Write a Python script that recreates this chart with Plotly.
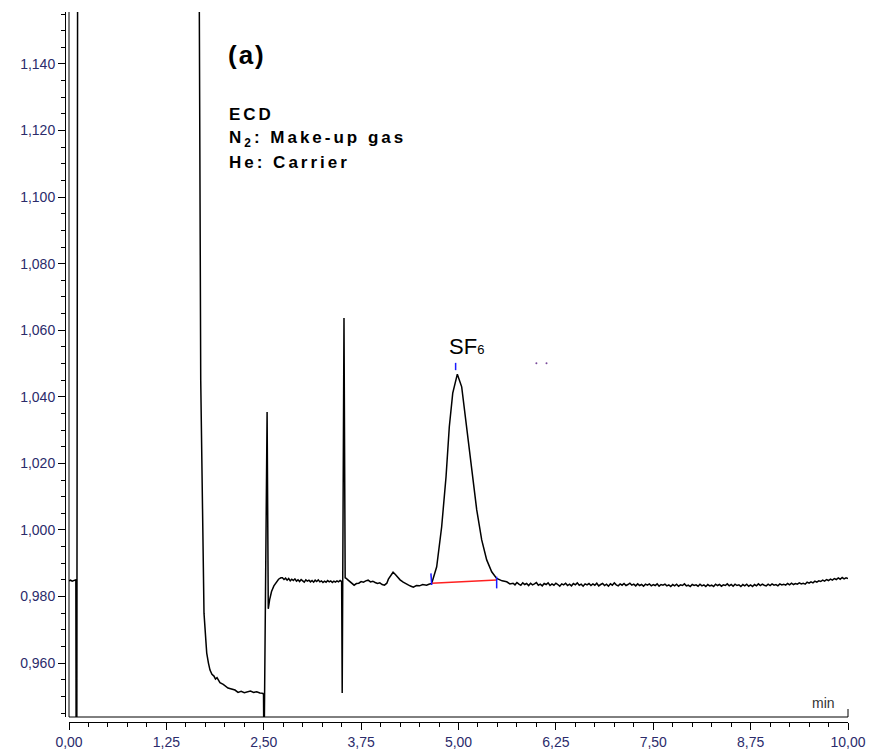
import plotly.graph_objects as go

# ---- chromatogram signal (time in min, detector response) ----
t_start = [0.00, 0.02, 0.04, 0.06, 0.08, 0.088]
y_start = [0.9847, 0.9849, 0.9846, 0.9848, 0.9851, 0.9850]

# injection disturbance and off-scale solvent/air front
t_front = [0.092, 0.100, 0.112, 0.125, 0.50, 1.00, 1.50, 1.640]
y_front = [0.930, 0.930, 1.200, 1.250, 1.300, 1.300, 1.300, 1.220]

# tail of the front
t_tail = [1.673, 1.691, 1.733, 1.759, 1.768, 1.790, 1.810, 1.835, 1.861, 1.880,
          1.900, 1.938, 1.980, 2.041, 2.090, 2.131, 2.170, 2.210, 2.250, 2.290,
          2.330, 2.370, 2.410, 2.450, 2.490]
y_tail = [1.1556, 1.0450, 0.9750, 0.9660, 0.9630, 0.9600, 0.9579, 0.9566, 0.9561, 0.9552,
          0.9556, 0.9541, 0.9536, 0.9525, 0.9522, 0.9519, 0.9512, 0.9515, 0.9511, 0.9514,
          0.9516, 0.9512, 0.9514, 0.9510, 0.9509]

# valve switch at 2.5 min and recovery
t_valve = [2.497, 2.503, 2.543, 2.558, 2.575, 2.600, 2.630, 2.660, 2.690, 2.720]
y_valve = [0.9505, 0.9300, 1.0354, 0.9763, 0.9790, 0.9815, 0.9832, 0.9843, 0.9852, 0.9856]

# baseline 2.74 - 3.48 min, sampled every 0.02 min
y_base1 = [0.9856, 0.9851, 0.9855, 0.9849, 0.9854, 0.9847, 0.9852, 0.9848, 0.9853, 0.9846,
           0.9850, 0.9845, 0.9851, 0.9847, 0.9843, 0.9850, 0.9846, 0.9849, 0.9844, 0.9848,
           0.9843, 0.9849, 0.9845, 0.9850, 0.9844, 0.9847, 0.9842, 0.9846, 0.9843, 0.9848,
           0.9844, 0.9847, 0.9842, 0.9846, 0.9843, 0.9847, 0.9844, 0.9848]
t_base1 = [round(2.74 + 0.02 * k, 3) for k in range(len(y_base1))]

# second switching spike at 3.5 min
t_spike = [3.500, 3.507, 3.530, 3.545]
y_spike = [0.9845, 0.9510, 1.0637, 0.9856]

t_base2 = [3.556, 3.58, 3.60, 3.63, 3.66, 3.69, 3.72, 3.75, 3.78, 3.81,
           3.84, 3.87, 3.90, 3.93, 3.96, 3.99, 4.02, 4.05, 4.08, 4.10,
           4.13, 4.16, 4.19, 4.22, 4.25, 4.29, 4.32, 4.36, 4.39, 4.42,
           4.46, 4.50, 4.54, 4.59, 4.62]
y_base2 = [0.9855, 0.9850, 0.9846, 0.9838, 0.9834, 0.9839, 0.9840, 0.9845, 0.9843, 0.9847,
           0.9849, 0.9844, 0.9846, 0.9842, 0.9839, 0.9841, 0.9836, 0.9834, 0.9840, 0.9852,
           0.9862, 0.9873, 0.9866, 0.9858, 0.9850, 0.9843, 0.9838, 0.9834, 0.9831, 0.9828,
           0.9833, 0.9832, 0.9836, 0.9834, 0.9837]

# SF6 peak
t_peak = [4.656, 4.720, 4.784, 4.840, 4.882, 4.926, 4.985, 5.041, 5.105, 5.169,
          5.234, 5.298, 5.362, 5.426, 5.490, 5.560, 5.619, 5.660]
y_peak = [0.98395, 0.98894, 1.00095, 1.01598, 1.03100, 1.04110, 1.04680, 1.04300, 1.03100, 1.01800,
          1.00600, 0.99700, 0.99100, 0.98743, 0.98545, 0.98470, 0.98443, 0.98380]

# baseline 5.70 - 10.00 min, sampled every 0.025 min
y_base3 = [0.9840, 0.9835, 0.9842, 0.9837, 0.9834, 0.9841, 0.9836, 0.9839, 0.9833, 0.9840,
           0.9835, 0.9838, 0.9842, 0.9834, 0.9837, 0.9832, 0.9839, 0.9836, 0.9841, 0.9833,
           0.9838, 0.9834, 0.9840, 0.9836, 0.9831, 0.9838, 0.9835, 0.9840, 0.9833, 0.9837,
           0.9832, 0.9839, 0.9835, 0.9841, 0.9834, 0.9837, 0.9831, 0.9838, 0.9835, 0.9839,
           0.9833, 0.9838, 0.9834, 0.9840, 0.9832, 0.9836, 0.9839, 0.9833, 0.9837, 0.9831,
           0.9838, 0.9834, 0.9841, 0.9835, 0.9832, 0.9838, 0.9834, 0.9839, 0.9833, 0.9836,
           0.9840, 0.9834, 0.9837, 0.9832, 0.9838, 0.9833, 0.9836, 0.9831, 0.9837, 0.9834,
           0.9838, 0.9832, 0.9836, 0.9833, 0.9838, 0.9831, 0.9836, 0.9834, 0.9837, 0.9832,
           0.9835, 0.9830, 0.9836, 0.9832, 0.9837, 0.9831, 0.9835, 0.9833, 0.9838, 0.9832,
           0.9834, 0.9830, 0.9836, 0.9833, 0.9835, 0.9831, 0.9837, 0.9832, 0.9835, 0.9830,
           0.9836, 0.9832, 0.9834, 0.9830, 0.9837, 0.9833, 0.9836, 0.9831, 0.9835, 0.9833,
           0.9838, 0.9832, 0.9836, 0.9831, 0.9837, 0.9833, 0.9835, 0.9830, 0.9836, 0.9832,
           0.9837, 0.9831, 0.9835, 0.9830, 0.9836, 0.9832, 0.9838, 0.9833, 0.9837, 0.9834,
           0.9832, 0.9837, 0.9833, 0.9838, 0.9834, 0.9836, 0.9832, 0.9838, 0.9835, 0.9837,
           0.9834, 0.9839, 0.9835, 0.9840, 0.9836, 0.9839, 0.9837, 0.9841, 0.9838, 0.9840,
           0.9837, 0.9843, 0.9840, 0.9844, 0.9841, 0.9846, 0.9843, 0.9847, 0.9845, 0.9849,
           0.9846, 0.9851, 0.9848, 0.9852, 0.9849, 0.9854, 0.9851, 0.9856, 0.9852, 0.9857,
           0.9853, 0.9856, 0.9854]
t_base3 = [round(5.70 + 0.025 * k, 3) for k in range(len(y_base3))]

# integration marks for the SF6 peak
peak_start = (4.656, 0.98395)
peak_end = (5.490, 0.98494)
peak_apex = (4.963, 1.0468)
mark_dots_t = [6.00, 6.13]
mark_dots_y = [1.0501, 1.0501]

# axis ticks
x_tick_vals = [0.00, 1.25, 2.50, 3.75, 5.00, 6.25, 7.50, 8.75, 10.00]
x_tick_text = ["0,00", "1,25", "2,50", "3,75", "5,00", "6,25", "7,50", "8,75", "10,00"]
y_tick_vals = [0.960, 0.980, 1.000, 1.020, 1.040, 1.060, 1.080, 1.100, 1.120, 1.140]
y_tick_text = ["0,960", "0,980", "1,000", "1,020", "1,040", "1,060", "1,080", "1,100", "1,120", "1,140"]
x_range = [0.0, 10.0]
y_range = [0.9438, 1.1556]

W, H = 869, 749
FONT = "Arial, Liberation Sans, sans-serif"
TICK_COLOR = "#2b2b6b"


def px(x):
    return x / W


def py(y):
    return 1 - y / H


time = t_start + t_front + t_tail + t_valve + t_base1 + t_spike + t_base2 + t_peak + t_base3
signal = y_start + y_front + y_tail + y_valve + y_base1 + y_spike + y_base2 + y_peak + y_base3

fig = go.Figure()

fig.add_trace(go.Scatter(x=time, y=signal, mode="lines",
                         line=dict(color="black", width=1.5), hoverinfo="skip"))

# integration baseline (red) and peak start / end / apex ticks (blue)
fig.add_trace(go.Scatter(x=[peak_start[0], peak_end[0]], y=[peak_start[1], peak_end[1]],
                         mode="lines", line=dict(color="#ff2020", width=1.5)))
fig.add_trace(go.Scatter(x=[peak_start[0] - 0.01, peak_start[0], None,
                            peak_end[0], peak_end[0], None,
                            peak_apex[0], peak_apex[0]],
                         y=[peak_start[1] + 0.0030, peak_start[1] - 0.0005, None,
                            peak_end[1] + 0.0010, peak_end[1] - 0.0025, None,
                            peak_apex[1] + 0.0034, peak_apex[1] + 0.0012],
                         mode="lines", line=dict(color="#1a1aff", width=1.5)))
fig.add_trace(go.Scatter(x=mark_dots_t, y=mark_dots_y, mode="markers",
                         marker=dict(color="#7a4a9a", size=2)))

x0, x1 = px(69), px(848)
yb, yt = py(717), py(12)

fig.update_layout(
    width=W, height=H,
    margin=dict(l=0, r=0, t=0, b=0, autoexpand=False),
    paper_bgcolor="white", plot_bgcolor="white",
    showlegend=False,
    font=dict(family=FONT, size=14, color=TICK_COLOR),
    xaxis=dict(
        domain=[x0, x1], range=x_range, anchor="free", position=py(722),
        showgrid=False, zeroline=False,
        showline=True, linecolor="black", linewidth=1,
        ticks="outside", ticklen=7, tickcolor="black", tickwidth=1,
        tickmode="array", tickvals=x_tick_vals, ticktext=x_tick_text,
        tickfont=dict(family=FONT, size=14, color=TICK_COLOR),
        minor=dict(tickmode="linear", tick0=0, dtick=0.25, ticks="outside",
                   ticklen=4, tickcolor="black", tickwidth=1, showgrid=False),
    ),
    yaxis=dict(
        domain=[yb, yt], range=y_range, anchor="free", position=px(65),
        showgrid=False, zeroline=False,
        showline=True, linecolor="black", linewidth=1,
        ticks="outside", ticklen=7, tickcolor="black", tickwidth=1,
        tickmode="array", tickvals=y_tick_vals, ticktext=y_tick_text,
        tickfont=dict(family=FONT, size=14, color=TICK_COLOR),
        minor=dict(tickmode="linear", tick0=0.96, dtick=0.005, ticks="outside",
                   ticklen=4, tickcolor="black", tickwidth=1, showgrid=False),
    ),
)

# plot frame: left edge, bottom edge and end-of-time tick
frame = dict(type="line", xref="paper", yref="paper", line=dict(color="black", width=1))
fig.add_shape(x0=x0, x1=x0, y0=yb, y1=yt, **frame)
fig.add_shape(x0=x0, x1=x1, y0=yb, y1=yb, **frame)
fig.add_shape(x0=x1, x1=x1, y0=yb, y1=py(709), **frame)

ann = dict(xref="paper", yref="paper", showarrow=False, xanchor="left", yanchor="middle")
fig.add_annotation(x=px(226), y=py(55),
                   text='<span style="letter-spacing:2px"><b>(a)</b></span>',
                   font=dict(family=FONT, size=26, color="black"), **ann)
info = [("ECD", 114), ("N<sub>2</sub>: Make-up gas", 139), ("He: Carrier", 163)]
for txt, ypix in info:
    fig.add_annotation(x=px(227), y=py(ypix),
                       text=f'<span style="letter-spacing:3px"><b>{txt}</b></span>',
                       font=dict(family=FONT, size=17, color="black"), **ann)
fig.add_annotation(x=px(447), y=py(346),
                   text='SF<span style="font-size:13px">6</span>',
                   font=dict(family=FONT, size=22, color="black"), **ann)
fig.add_annotation(x=px(810), y=py(703), text="min",
                   font=dict(family=FONT, size=14, color="#333333"), **ann)

fig.write_html("out.html")
